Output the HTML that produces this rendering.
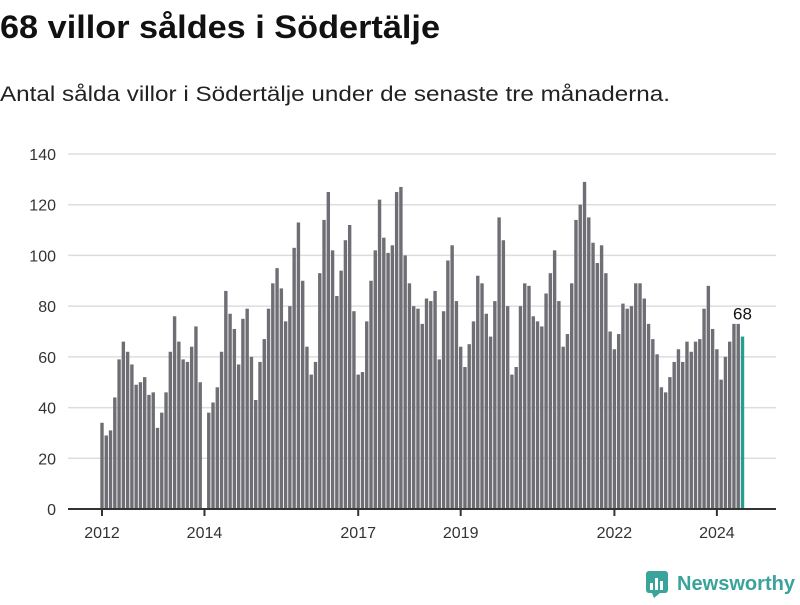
<!DOCTYPE html>
<html><head><meta charset="utf-8"><style>
body{margin:0;width:800px;height:600px;background:#fff;font-family:"Liberation Sans",sans-serif;overflow:hidden}
</style></head><body>
<svg width="800" height="600" id="svg">
<text x="0" y="38" font-size="32" font-weight="bold" fill="#111" textLength="440" lengthAdjust="spacingAndGlyphs">68 villor såldes i Södertälje</text>
<text x="0" y="101" font-size="21" fill="#222" textLength="670" lengthAdjust="spacingAndGlyphs">Antal sålda villor i Södertälje under de senaste tre månaderna.</text>
<g id="grid"></g>
<g id="bars"></g>
<g id="axes"></g>
<g>
<rect x="646" y="571" width="22" height="22" rx="3" fill="#3aa39a"/>
<rect x="650" y="583" width="3" height="7" fill="#fff"/><rect x="655" y="578" width="3" height="12" fill="#fff"/><rect x="660" y="581" width="3" height="9" fill="#fff"/>
<polygon points="652,593 660,593 654,598" fill="#3aa39a"/>
<text x="677" y="590" font-size="20" font-weight="bold" fill="#3aa39a" textLength="118" lengthAdjust="spacingAndGlyphs">Newsworthy</text>
</g>
</svg>
<script>
const yTicks=[0,20,40,60,80,100,120,140];
const xTickLabels=["2012","2014","2017","2019","2022","2024"];
const xTickIndex=[0,24,60,84,120,144];
const values=[34,29,31,44,59,66,62,57,49,50,52,45,
46,32,38,46,62,76,66,59,58,64,72,50,
null,38,42,48,62,86,77,71,57,75,79,60,43,
58,67,79,89,95,87,74,80,103,113,
90,64,53,58,93,114,125,102,84,94,
106,112,78,53,54,74,90,102,122,107,
101,104,125,127,100,89,80,79,73,83,
82,86,59,78,98,104,82,64,56,65,
74,92,89,77,68,82,115,106,80,53,
56,80,89,88,76,74,72,85,93,102,
82,64,69,89,114,120,129,115,105,97,
104,93,70,63,69,81,79,80,89,89,
83,73,67,61,48,46,52,58,63,58,
66,62,66,67,79,88,71,63,51,60,
66,73,73,68];
const NS="http://www.w3.org/2000/svg";
const y=v=>509-v*(355/140);
const x=i=>102+i*4.27;
function mk(t,a,p){const e=document.createElementNS(NS,t);for(const k in a)e.setAttribute(k,a[k]);p.appendChild(e);return e;}
const grid=document.getElementById('grid'),bars=document.getElementById('bars'),axes=document.getElementById('axes');
yTicks.forEach(v=>{
  const l=mk('line',{x1:68,x2:776,y1:y(v),y2:y(v),stroke:'#ddd','stroke-width':1.5},grid);
  
  
  const t=mk('text',{x:56,y:y(v)+6,'font-size':16,fill:'#333','text-anchor':'end'},axes);
  t.textContent=v;
  
  
});
const last=values.length-1;
values.forEach((v,i)=>{
  if(v==null)return;
  const r=mk('rect',{x:x(i)-1.7,y:y(v),width:3.4,height:509-y(v),fill:i===last?'#2a9d8f':'#6f6e75'},bars);
  
  
});
const lb=mk('text',{x:x(last),y:y(values[last])-17,'font-size':17,fill:'#111','text-anchor':'middle'},axes);
lb.textContent=values[last];


const ax=mk('line',{x1:68,x2:776,y1:509,y2:509,stroke:'#333','stroke-width':2},axes);


xTickLabels.forEach((s,k)=>{
  const xi=x(xTickIndex[k]);
  const tk=mk('line',{x1:xi,x2:xi,y1:509,y2:516,stroke:'#333','stroke-width':2},axes);
  
  
  const t=mk('text',{x:xi,y:538,'font-size':16,fill:'#333','text-anchor':'middle'},axes);
  t.textContent=s;
  
  
});
</script>
</body></html>
